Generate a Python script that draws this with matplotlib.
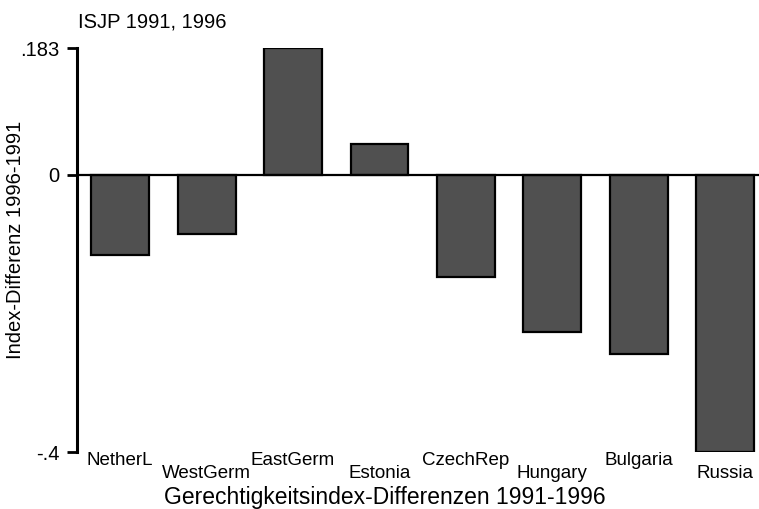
import numpy as np
import matplotlib.pyplot as plt
from matplotlib import transforms

plt.rcParams['font.family'] = ['Liberation Sans', 'DejaVu Sans']

# Index differences 1996-1991
countries = ['NetherL', 'WestGerm', 'EastGerm', 'Estonia',
             'CzechRep', 'Hungary', 'Bulgaria', 'Russia']
diffs = [-0.115, -0.085, 0.183, 0.045, -0.147, -0.227, -0.258, -0.400]
yticks = [-0.4, 0, 0.183]
ytick_labels = ['-.4', '0', '.183']

W, H = 759, 509
fig = plt.figure(figsize=(W / 100, H / 100), dpi=100)
# axes from y-axis line to right edge, -.4 to .183 in pixel space
ax = fig.add_axes([77 / W, 1 - 452 / H, (759 - 77) / W, (452 - 48) / H])

x = np.arange(len(countries))
ax.bar(x, diffs, width=0.67, color='#505050', edgecolor='black', linewidth=1.6, zorder=2)
ax.axhline(0, color='black', linewidth=1.6, zorder=3)

ax.set_xlim(-0.5, 7.39)
ax.set_ylim(-0.4, 0.183)
ax.set_yticks(yticks)
ax.set_yticklabels(ytick_labels, fontsize=14.5)
ax.tick_params(axis='y', length=7.5, width=2, pad=5)
ax.set_xticks([])

for s in ['top', 'right', 'bottom']:
    ax.spines[s].set_visible(False)
ax.spines['left'].set_linewidth(2.2)

# alternating category labels under the plot
trans = transforms.blended_transform_factory(ax.transData, fig.transFigure)
for i, name in enumerate(countries):
    base = 465 if i % 2 == 0 else 478
    ax.text(i, 1 - base / H, name, transform=trans,
            ha='center', va='baseline', fontsize=13.5)

fig.text(78 / W, 1 - 28 / H, 'ISJP 1991, 1996', ha='left', va='baseline', fontsize=14.5)
fig.text(385 / W, 1 - 504 / H, 'Gerechtigkeitsindex-Differenzen 1991-1996',
         ha='center', va='baseline', fontsize=16.5)
fig.text(16 / W, 1 - 240 / H, 'Index-Differenz 1996-1991', rotation=90,
         ha='center', va='center', fontsize=14.5)

fig.savefig('out.png', dpi=100)
